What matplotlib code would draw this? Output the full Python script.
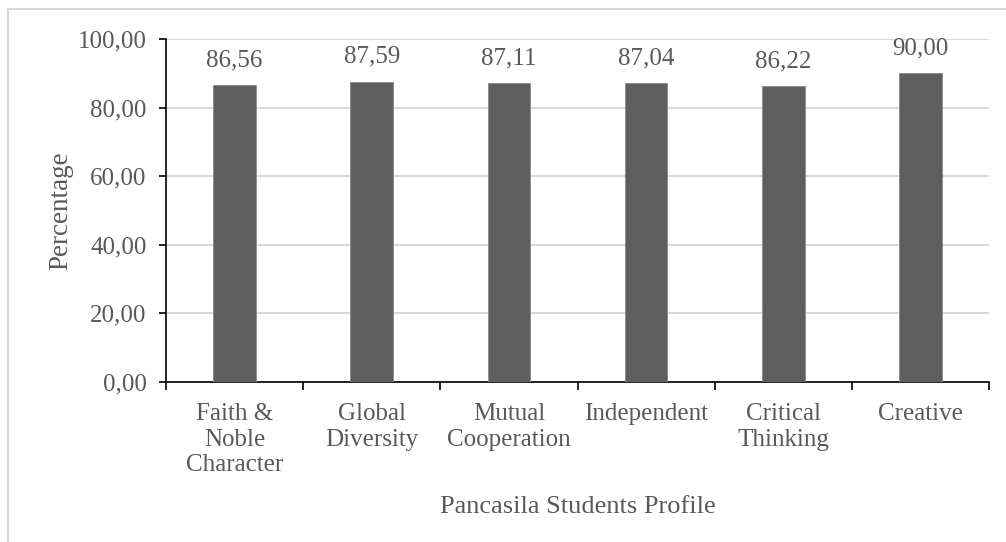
import matplotlib.pyplot as plt
from matplotlib.patches import Rectangle
from matplotlib.ticker import FuncFormatter, MultipleLocator

categories = ["Faith &\nNoble\nCharacter", "Global\nDiversity", "Mutual\nCooperation",
              "Independent", "Critical\nThinking", "Creative"]
values = [86.56, 87.59, 87.11, 87.04, 86.22, 90.00]

TEXT = "#595959"
FS = 18
plt.rcParams["font.family"] = ["Liberation Serif", "DejaVu Serif"]

fig = plt.figure(figsize=(10.06, 5.42), dpi=100)
ax = fig.add_axes([166 / 1006, 1 - 382 / 542, (989 - 166) / 1006, (382 - 39) / 542])

# chart border (Excel style), cut off at right/bottom
fig.patches.append(Rectangle((8 / 1006, -0.1), 1.2, 1 - 9 / 542 + 0.1,
                             transform=fig.transFigure, fill=False,
                             edgecolor="#d9d9d9", linewidth=1.5))

x = range(len(values))
ax.bar(x, values, width=0.31, color="#5e5e5e", edgecolor="#8a8a8a",
       linewidth=0.6, zorder=3)
for xi, v in zip(x, values):
    ax.text(xi, v + 4.0, f"{v:.2f}".replace(".", ","), ha="center", va="bottom",
            fontsize=FS, color=TEXT)

ax.set_xlim(-0.5, len(values) - 0.5)
ax.set_ylim(0, 100)
ax.yaxis.set_major_locator(MultipleLocator(20))
ax.yaxis.set_major_formatter(FuncFormatter(lambda v, _: f"{v:.2f}".replace(".", ",")))
ax.grid(axis="y", color="#d9d9d9", linewidth=1.5, zorder=0)

ax.set_xticks(list(x))
ax.set_xticklabels(categories, fontsize=FS, color=TEXT, linespacing=1.22)
ax.set_xticks([i - 0.5 for i in range(len(values) + 1)], minor=True)
ax.tick_params(axis="x", which="major", length=0, pad=15)
ax.tick_params(axis="x", which="minor", length=6, width=1.2, color="black")
ax.tick_params(axis="y", length=5, width=1.2, color="black", labelsize=FS,
               labelcolor=TEXT, pad=9)

for s in ["top", "right"]:
    ax.spines[s].set_visible(False)
ax.spines["left"].set_linewidth(1.2)
ax.spines["bottom"].set_linewidth(1.2)

ax.set_xlabel("Pancasila Students Profile", fontsize=19, color=TEXT, labelpad=14)
ax.set_ylabel("Percentage", fontsize=19.5, color=TEXT, labelpad=3)

fig.savefig("out.png", dpi=100, facecolor="white")
